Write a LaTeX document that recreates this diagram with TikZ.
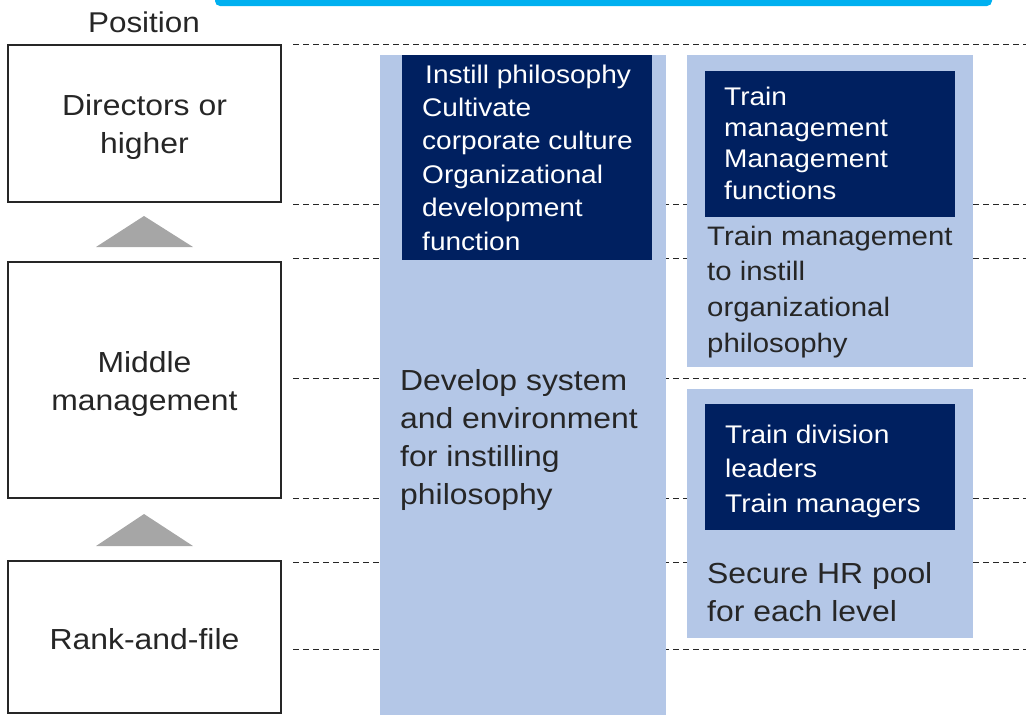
\documentclass[tikz,border=0pt]{standalone}
\usepackage{fontspec}
\setmainfont{Liberation Sans}[FakeStretch=1.1]
\definecolor{ink}{HTML}{262626}
\definecolor{paleblue}{HTML}{B4C7E7}
\definecolor{navy}{HTML}{002060}
\definecolor{barcyan}{HTML}{00B0F0}
\definecolor{risergray}{HTML}{A6A6A6}
\begin{document}
\begin{tikzpicture}[x=1pt,y=-1pt,
  posbox/.style={draw=ink, line width=1.6pt, fill=white, minimum width=273pt,
    inner sep=0pt},
  boxtxt/.style={inner sep=0pt, align=center, text=ink, font=\fontsize{29}{38}\selectfont},
  panel/.style={fill=paleblue},
  darkbox/.style={fill=navy},
  txt/.style={anchor=north west, inner sep=0pt, align=left},
  bigtxt/.style={txt, text=ink, font=\fontsize{29}{38}\selectfont},
  midtxt/.style={txt, text=ink, font=\fontsize{26.7}{35.6}\selectfont},
  lefttxt/.style={txt, text=white, font=\fontsize{25.5}{33.4}\selectfont},
  toptxt/.style={txt, text=white, font=\fontsize{25.5}{31.3}\selectfont},
  lowtxt/.style={txt, text=white, font=\fontsize{25.5}{34.5}\selectfont},
  guide/.style={draw=ink, line width=1pt, dash pattern=on 6pt off 4pt},
  riser/.style={fill=risergray}
]
\useasboundingbox (0,0) rectangle (1026,715);

% heading bar along the top edge
\begin{scope}
  \clip (0,0) rectangle (1026,715);
  \fill[barcyan, rounded corners=5pt] (215,-12) rectangle (992,6);
\end{scope}

% column heading
\node[anchor=base, inner sep=0pt, text=ink, font=\fontsize{28.6}{34}\selectfont] (poshead) at (144,32) {Position};

% level guide lines
\foreach \gy in {44,204,258,378,498,562,649}
  \draw[guide] (293,\gy) -- (1026,\gy);

% position boxes
\node[posbox, minimum height=157pt] (dir) at (144.5,123.5) {};
\node[posbox, minimum height=236pt] (mid) at (144.5,380) {};
\node[posbox, minimum height=152pt] (rank) at (144.5,637) {};
\node[boxtxt] (dirtxt) at ([yshift=-3.5pt]dir.center) {Directors or\\higher};
\node[boxtxt] (midtxt) at ([yshift=-3.5pt]mid.center) {Middle\\management};
\node[boxtxt] (ranktxt) at ([yshift=-2pt]rank.center) {Rank-and-file};

% promotion arrows
\fill[riser] (144,216) -- (193,247) -- (96,247) -- cycle;
\fill[riser] (144,514) -- (193,546) -- (96,546) -- cycle;

% left column: system and environment
\fill[panel] (380,55) rectangle (666,715);
\fill[darkbox] (402,55) rectangle (652,260);
\node[lefttxt] (philo) at (422,59.6)
  {\strut\hspace{3pt}Instill philosophy\\Cultivate\\corporate culture\\Organizational\\development\\function};
\node[bigtxt] (develop) at (400,363.4)
  {\strut Develop system\\and environment\\for instilling\\philosophy};

% right column, upper: management training
\fill[panel] (687,55) rectangle (973,367);
\fill[darkbox] (705,71) rectangle (955,217);
\node[toptxt] (trainmgmt) at (724,83.1)
  {\strut Train\\management\\Management\\functions};
\node[midtxt] (instill) at (707,220.1)
  {\strut Train management\\to instill\\organizational\\philosophy};

% right column, lower: leader pool
\fill[panel] (687,389) rectangle (973,638);
\fill[darkbox] (705,404) rectangle (955,530);
\node[lowtxt] (leaders) at (725,418.85)
  {\strut Train division\\leaders\\Train managers};
\node[bigtxt] (pool) at (707,556.4)
  {\strut Secure HR pool\\for each level};
\end{tikzpicture}
\end{document}
